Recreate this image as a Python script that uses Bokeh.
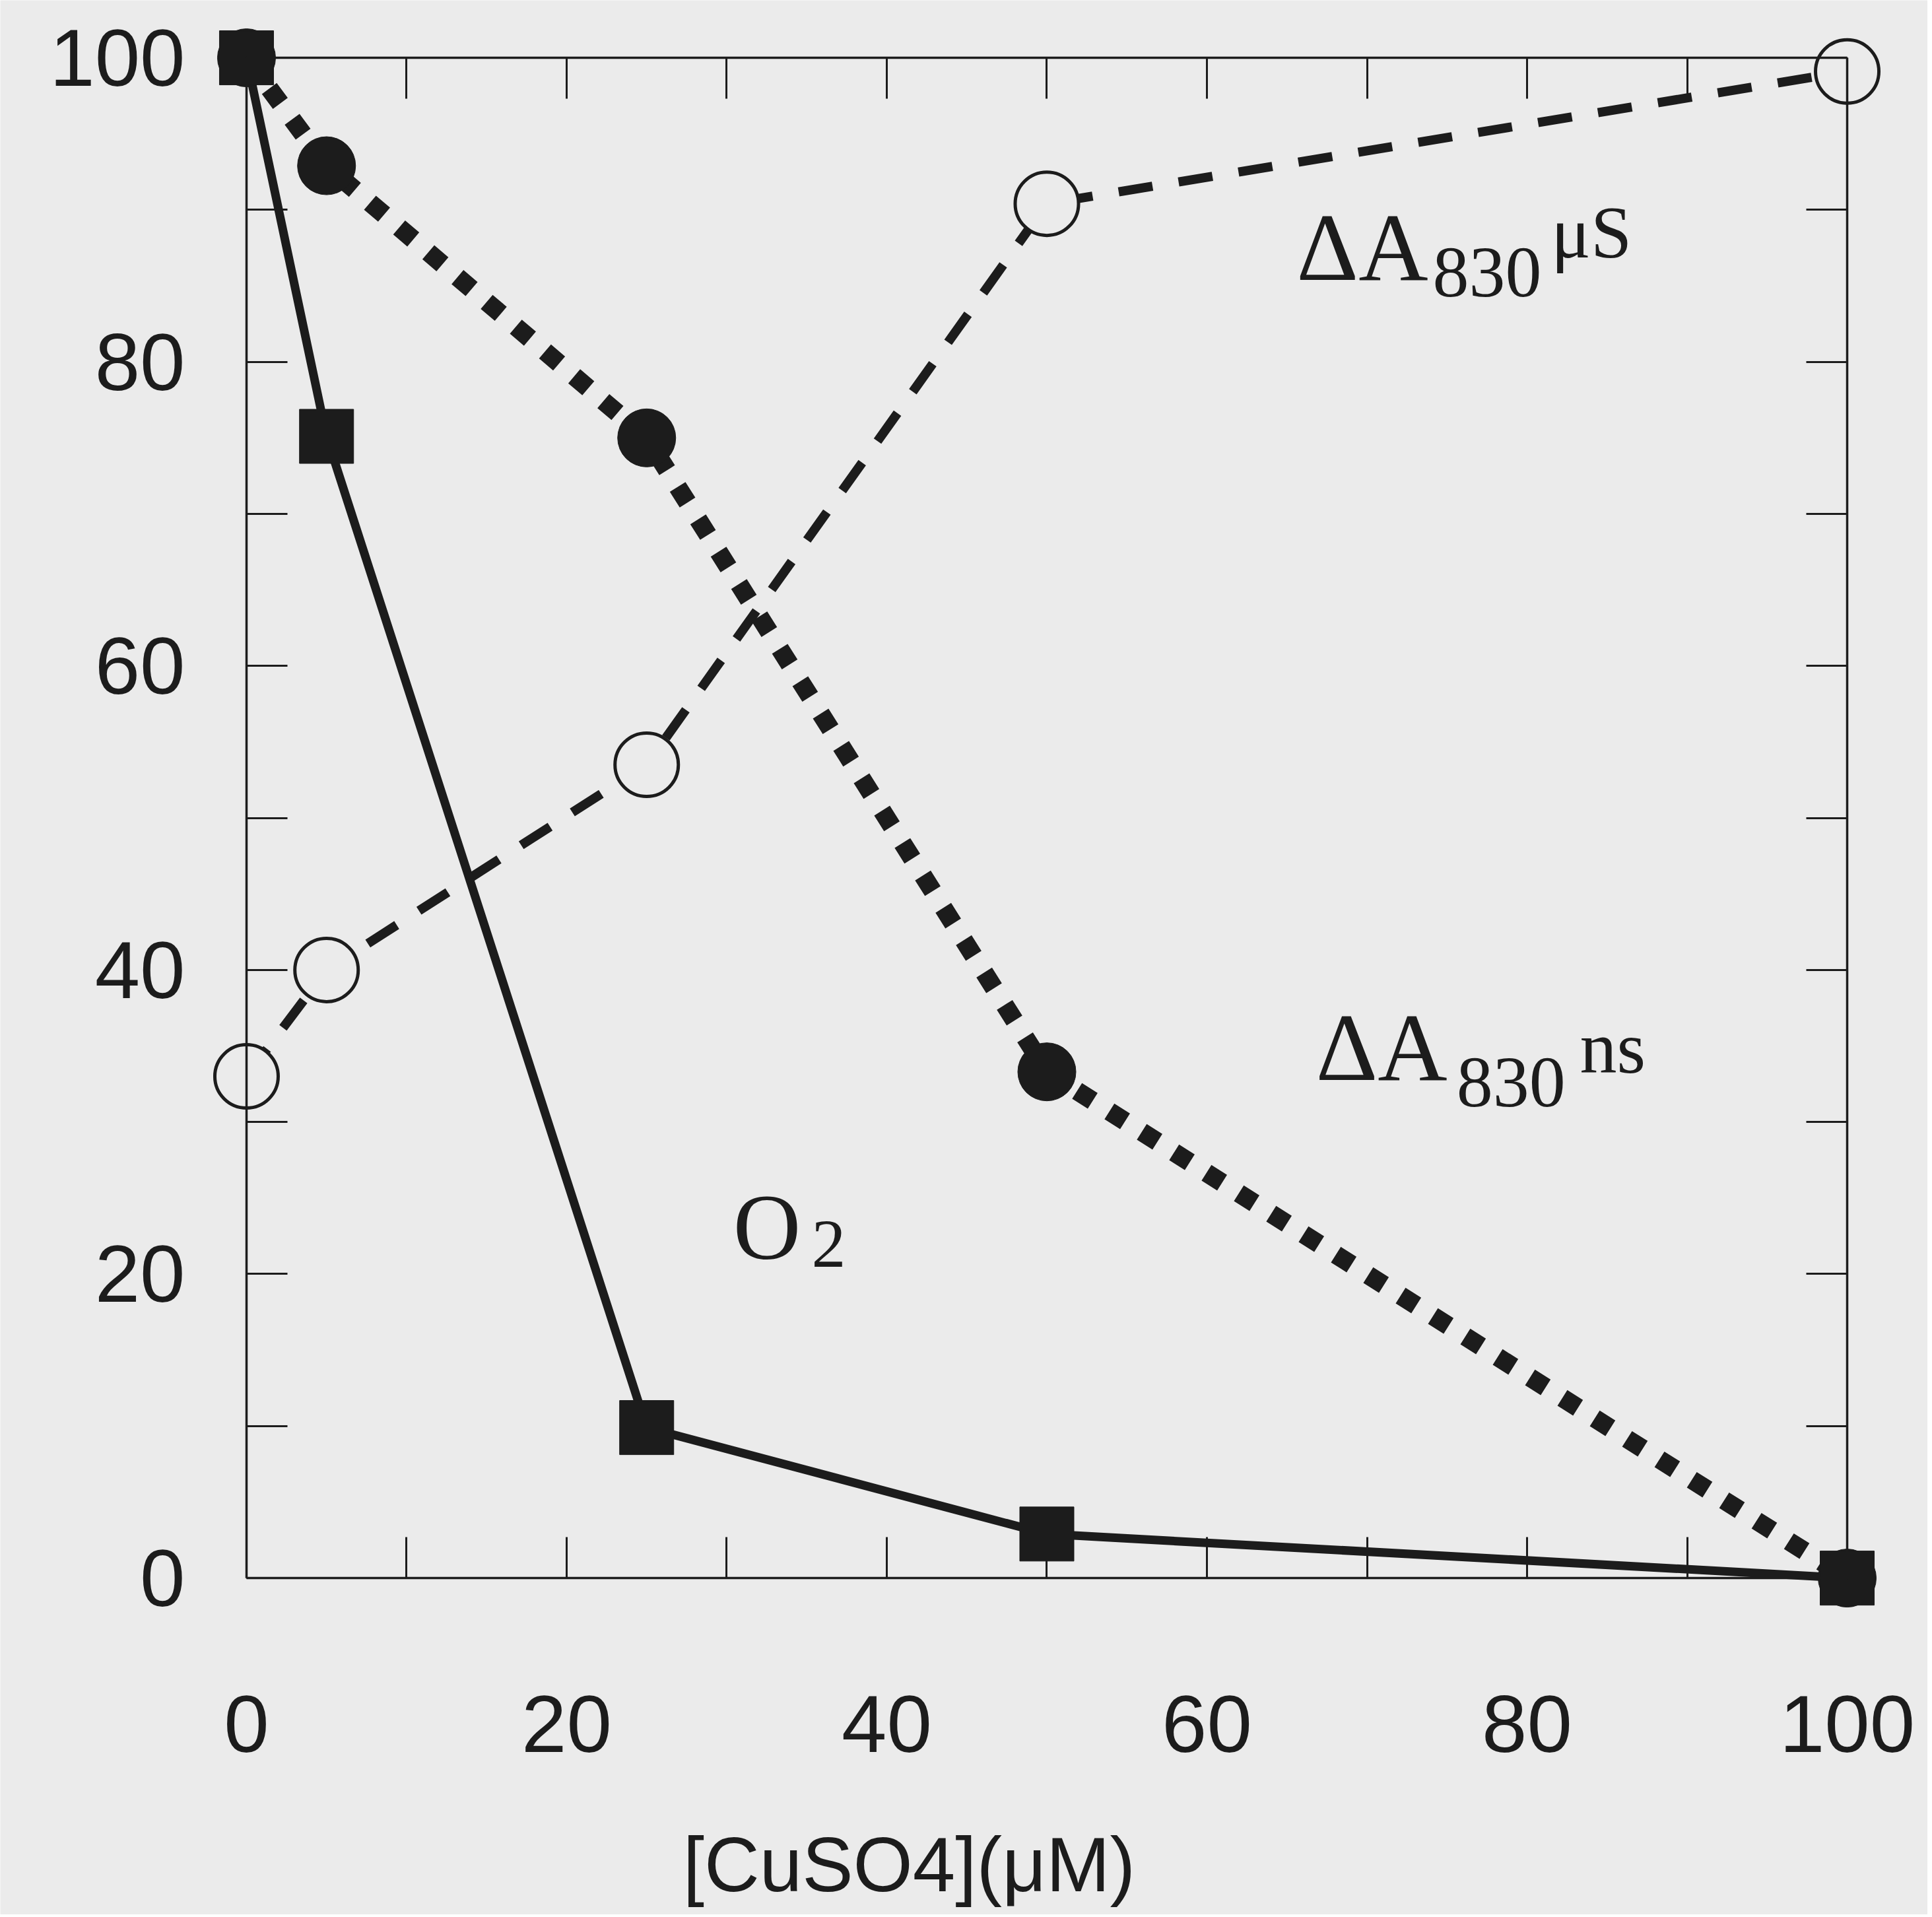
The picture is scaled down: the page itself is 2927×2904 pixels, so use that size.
from bokeh.plotting import figure
from bokeh.models import LinearAxis, FixedTicker, Range1d, Label
from bokeh.core.properties import value
from bokeh.embed import file_html
from bokeh.resources import INLINE

# ---- data ----
cuso4 = [0, 5, 25, 50, 100]                 # [CuSO4] (uM)
o2 = [100, 75.1, 9.9, 2.9, 0]               # O2 (filled squares, solid)
dA830_ns = [100, 92.9, 75.0, 33.3, 0]       # dA830 ns (filled circles, dotted)
dA830_us = [33.0, 40.0, 53.5, 90.4, 99.1]   # dA830 us (open circles, dashed)

tick_values = list(range(0, 101, 10))
tick_labels = {v: (str(v) if v % 20 == 0 else "") for v in tick_values}
blank_labels = {v: "" for v in tick_values}
x_title = "[CuSO4](μM)"

BG = "#ebebeb"
INK = "#1c1c1c"

# frame covers the whole canvas; axes sit at data 0 / 100 (fixed_location)
p = figure(width=2920, height=2900, output_backend="svg", toolbar_location=None,
           x_range=Range1d(-15.38, 105.03), y_range=Range1d(-22.14, 103.78),
           x_axis_location=None, y_axis_location=None,
           min_border=0, min_border_left=0, min_border_right=0,
           min_border_top=0, min_border_bottom=0,
           background_fill_color=BG, border_fill_color=BG, outline_line_color=None)
p.xgrid.visible = False
p.ygrid.visible = False


def add_axis(loc, fixed, labels, standoff):
    ax = LinearAxis(fixed_location=fixed, bounds=(0, 100),
                    ticker=FixedTicker(ticks=tick_values, minor_ticks=[]),
                    major_label_overrides=labels,
                    major_tick_in=62, major_tick_out=0,
                    minor_tick_in=0, minor_tick_out=0,
                    axis_line_color=INK, axis_line_width=3.5,
                    major_tick_line_color=INK, major_tick_line_width=3,
                    major_label_text_font="Liberation Sans",
                    major_label_text_font_size="123px",
                    major_label_text_color=INK,
                    major_label_standoff=standoff)
    p.add_layout(ax, loc)
    return ax


add_axis("below", 0, tick_labels, 178)
add_axis("left", 0, tick_labels, 93)
add_axis("above", 100, blank_labels, 10)
add_axis("right", 100, blank_labels, 10)

# ---- series ----
p.line(cuso4, dA830_us, line_width=14, line_dash="52 40", line_color=INK)
p.line(cuso4, dA830_ns, line_width=28, line_dash="28 30", line_cap="butt", line_color=INK)
p.line(cuso4, o2, line_width=13, line_color=INK)

p.scatter(cuso4, dA830_us, marker="circle", size=96, fill_color=BG,
          line_color=INK, line_width=5)
p.scatter(cuso4, dA830_ns, marker="circle", size=88, fill_color=INK, line_color=INK)
p.scatter(cuso4, o2, marker="square", size=82, fill_color=INK, line_color=INK)

# ---- curve labels ----
serif = value("Liberation Serif")
p.text(x=[65.6, 66.8], y=[87.5, 34.9], text=["ΔA", "ΔA"], text_font=serif,
       text_font_size="146px", text_color=INK, text_baseline="alphabetic")
p.text(x=[74.1, 75.6], y=[85.9, 32.6], text=["830", "830"], text_font=serif,
       text_font_size="110px", text_color=INK, text_baseline="alphabetic")
p.text(x=[81.5, 83.3], y=[88.5, 34.9], text=["μS", "ns"], text_font=serif,
       text_font_size="112px", text_color=INK, text_baseline="alphabetic")
p.text(x=[30.4], y=[23.10], text=["O"], text_font=serif,
       text_font_size="142px", text_color=INK, text_baseline="alphabetic")
p.text(x=[35.3], y=[21.97], text=["2"], text_font=serif,
       text_font_size="104px", text_color=INK, text_baseline="alphabetic")

# ---- x-axis title ----
p.add_layout(Label(x=41.4, y=-18.85, text=x_title, text_align="center",
                   text_baseline="alphabetic", text_font="Liberation Sans",
                   text_font_size="116px", text_color=INK))

open("out.html", "w").write(file_html(p, INLINE))
